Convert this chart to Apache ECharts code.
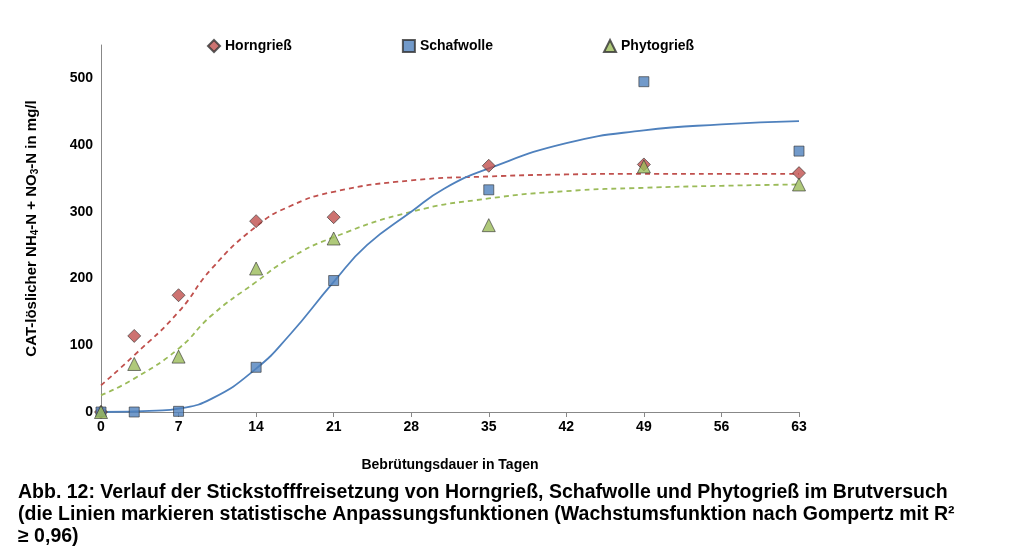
<!DOCTYPE html>
<html><head><meta charset="utf-8">
<script src="https://cdn.jsdelivr.net/npm/echarts@6/dist/echarts.min.js"></script>
<style>body{margin:0;background:#fff}#c{width:1012px;height:550px}</style>
</head><body><div id="c"></div>
<script>
// Measured points
const horn = [[0,0],[3,114],[7,175],[14,286],[21,292],[35,369],[49,371],[63,358]];
const schaf = [[0,0],[3,0],[7,1],[14,67],[21,197],[35,333],[49,495],[63,391]];
const phyto = [[0,0],[3,72],[7,83],[14,215],[21,260],[35,280],[49,368],[63,341]];
// Fitted curves
const hornFit = [[0,40],[3,85],[7,150],[10,215],[14,278],[17,308],[21,330],[28,347],[35,353],[42,356],[49,357],[56,357],[63,357]];
const phytoFit = [[0,25],[3,50],[7,95],[10,145],[14,195],[17,230],[21,262],[28,300],[35,320],[42,331],[49,336],[56,339],[63,341]];
const schafFit = [[0,0],[5,2],[7,5],[10,20],[14,65],[17,115],[21,195],[24,250],[28,300],[31,335],[35,365],[42,403],[49,422],[56,431],[63,436]];

const chart = echarts.init(document.getElementById('c'));
const f = 'Liberation Sans, Arial, sans-serif';
const mk = (name, data, sym, color, size) => ({name, type:'scatter', data, symbol:sym, symbolSize:size,
  itemStyle:{color, borderColor:'#333', borderWidth:0.8}, z:5});
const ln = (data, color, dash) => ({type:'line', data, smooth:true, showSymbol:false, silent:true,
  lineStyle:{color, width:1.8, type:dash?[5,4]:'solid'}, z:3});
chart.setOption({
  animation:false,
  textStyle:{fontFamily:f},
  legend:{top:34, left:202, itemGap:110, itemWidth:12, itemHeight:12,
    textStyle:{fontWeight:'bold', fontSize:14, color:'#000'},
    data:['Horngrieß','Schafwolle','Phytogrieß']},
  grid:{left:101, right:213, top:45, bottom:138},
  xAxis:{type:'value', min:0, max:63, interval:7,
    name:'Bebrütungsdauer in Tagen', nameLocation:'middle', nameGap:46,
    nameTextStyle:{fontWeight:'bold', fontSize:14, color:'#000'},
    axisLine:{lineStyle:{color:'#888'}},
    axisLabel:{fontWeight:'bold', fontSize:14, color:'#000'}, splitLine:{show:false}},
  yAxis:{type:'value', min:0, max:550, interval:50,
    name:'{n|CAT-löslicher NH}{s|4}{n|-N + NO}{s|3}{n|-N in mg/l}', nameLocation:'middle', nameGap:62,
    nameTextStyle:{rich:{n:{fontWeight:'bold', fontSize:15, color:'#000'}, s:{fontWeight:'bold', fontSize:10, color:'#000', padding:[0,0,-8,0]}}},
    axisLine:{show:true, lineStyle:{color:'#888'}},
    axisTick:{show:false},
    axisLabel:{fontWeight:'bold', fontSize:14, color:'#000', formatter:v => v % 100 === 0 ? v : ''},
    splitLine:{show:false}},
  series:[
    ln(hornFit,'#c0504d',true), ln(phytoFit,'#9bbb59',true), ln(schafFit,'#4f81bd',false),
    mk('Horngrieß', horn, 'diamond', '#c0504d', 13),
    mk('Schafwolle', schaf, 'rect', '#4f81bd', 10),
    mk('Phytogrieß', phyto, 'triangle', '#9bbb59', 13)
  ],
  graphic:[{type:'text', left:18, top:482, style:{fontFamily:f, fontWeight:'bold', fontSize:19.5, fill:'#000', lineHeight:22,
    text:'Abb. 12: Verlauf der Stickstofffreisetzung von Horngrieß, Schafwolle und Phytogrieß im Brutversuch\n(die Linien markieren statistische Anpassungsfunktionen (Wachstumsfunktion nach Gompertz mit R²\n≥ 0,96)'}}]
});
</script></body></html>
